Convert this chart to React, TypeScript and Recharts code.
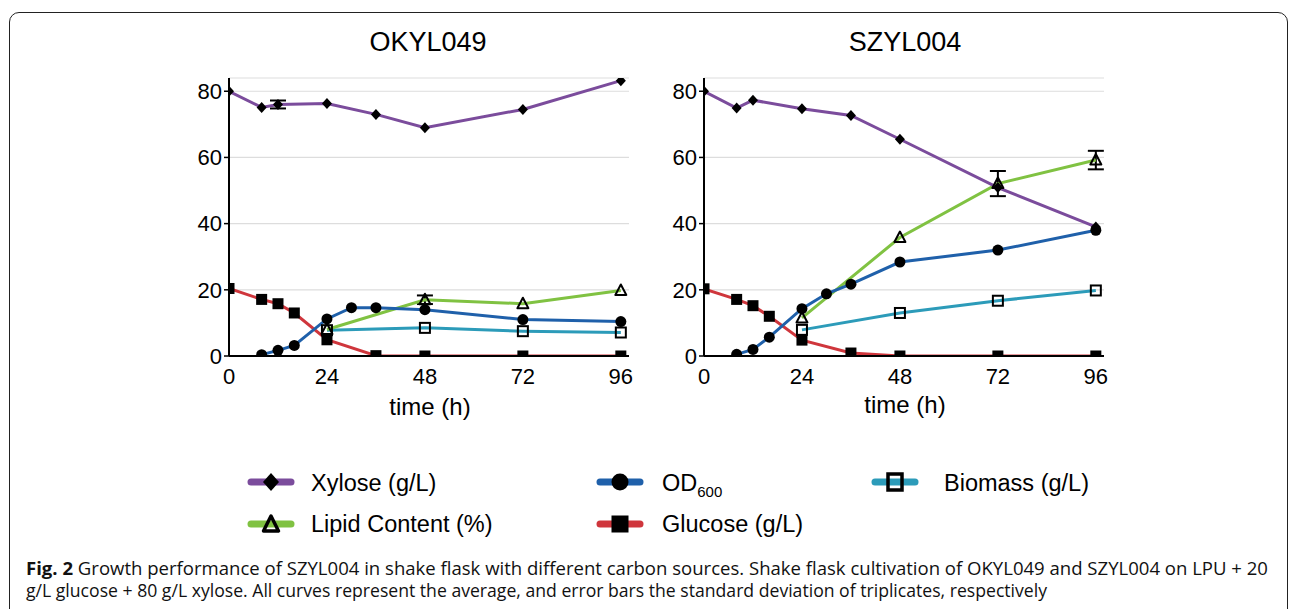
import React from 'react';
import { LineChart, Line, XAxis, YAxis, CartesianGrid, ErrorBar } from 'recharts';

// time points (h) for each measured quantity
const xyloseTimes = [0, 8, 12, 24, 36, 48, 72, 96];
const glucoseTimes = [0, 8, 12, 16, 24, 36, 48, 72, 96];
const odTimes = [8, 12, 16, 24, 30, 36, 48, 72, 96];
const lipidTimes = [24, 48, 72, 96];
const biomassTimes = [24, 48, 72, 96];

const timeTicks = [0, 24, 48, 72, 96];
const valueTicks = [0, 20, 40, 60, 80];

// OKYL049
const okXylose = [80, 75.1, 76.0, 76.3, 73.0, 69.0, 74.5, 83.2];
const okXyloseSd = [null, null, 1.2, null, null, null, null, null];
const okGlucose = [20.4, 17.1, 15.8, 13.0, 4.9, 0.1, 0, 0, 0];
const okOd = [0.4, 1.7, 3.2, 11.2, 14.6, 14.6, 14.0, 11.0, 10.4];
const okLipid = [8.0, 17.0, 15.8, 19.8];
const okLipidSd = [null, 1.3, null, null];
const okBiomass = [7.8, 8.5, 7.5, 7.1];

// SZYL004
const szXylose = [80, 74.9, 77.3, 74.7, 72.7, 65.5, 50.9, 39.0];
const szGlucose = [20.3, 17.1, 15.2, 12.0, 4.8, 0.9, 0, 0, 0];
const szOd = [0.5, 2.0, 5.7, 14.3, 18.8, 21.7, 28.4, 32.0, 38.0];
const szLipid = [11.5, 35.8, 52.1, 59.2];
const szLipidSd = [null, null, 3.8, 2.8];
const szBiomass = [7.9, 13.0, 16.7, 19.8];

const colors = {
  xylose: '#7b4c9c',
  od: '#1f60aa',
  biomass: '#2c9bb9',
  lipid: '#80c242',
  glucose: '#cf363c',
};

const FONT = '"Liberation Sans", Arial, Helvetica, sans-serif';

const pts = (t: number[], v: number[], sd?: (number | null)[]) =>
  t.map((x, i) => ({ t: x, v: v[i], e: sd && sd[i] != null ? sd[i] : undefined }));

const empty = (p: any) => <g key={`e${p.index}`} />;

const diamondDot = (p: any) => {
  const { cx, cy } = p;
  if (cx == null || cy == null) return empty(p);
  return <path key={`d${p.index}`} d={`M${cx},${cy - 5.5}L${cx + 5},${cy}L${cx},${cy + 5.5}L${cx - 5},${cy}Z`} fill="#000" />;
};
const circleDot = (p: any) => {
  const { cx, cy } = p;
  if (cx == null || cy == null) return empty(p);
  return <circle key={`c${p.index}`} cx={cx} cy={cy} r={5.5} fill="#000" />;
};
const squareDot = (p: any) => {
  const { cx, cy } = p;
  if (cx == null || cy == null) return empty(p);
  return <rect key={`s${p.index}`} x={cx - 5.5} y={cy - 5.5} width={11} height={11} fill="#000" />;
};
const openSquareDot = (p: any) => {
  const { cx, cy } = p;
  if (cx == null || cy == null) return empty(p);
  return <rect key={`o${p.index}`} x={cx - 5} y={cy - 5} width={10} height={10} fill="none" stroke="#000" strokeWidth={2} />;
};
const triangleDot = (p: any) => {
  const { cx, cy } = p;
  if (cx == null || cy == null) return empty(p);
  return <path key={`t${p.index}`} d={`M${cx},${cy - 6}L${cx + 5.5},${cy + 4.5}L${cx - 5.5},${cy + 4.5}Z`} fill="none" stroke="#000" strokeWidth={2} strokeLinejoin="round" />;
};

function Panel({ left, xylose, xyloseSd, glucose, od, lipid, lipidSd, biomass }: any) {
  const series = [
    { key: 'biomass', data: pts(biomassTimes, biomass), color: colors.biomass, dot: openSquareDot },
    { key: 'lipid', data: pts(lipidTimes, lipid, lipidSd), color: colors.lipid, dot: triangleDot },
    { key: 'glucose', data: pts(glucoseTimes, glucose), color: colors.glucose, dot: squareDot },
    { key: 'od', data: pts(odTimes, od), color: colors.od, dot: circleDot },
    { key: 'xylose', data: pts(xyloseTimes, xylose, xyloseSd), color: colors.xylose, dot: diamondDot },
  ];
  return (
    <div style={{ position: 'absolute', left, top: 60 }}>
      <LineChart width={500} height={340} margin={{ top: 18, right: 21, bottom: 4, left: 0 }}>
        <CartesianGrid vertical={false} stroke="#dddddd" strokeWidth={1.2} />
        <XAxis
          dataKey="t"
          type="number"
          domain={[0, 98]}
          ticks={timeTicks}
          allowDataOverflow
          height={40}
          tickLine={false}
          tickSize={6}
          tickMargin={6}
          axisLine={{ stroke: '#000', strokeWidth: 2 }}
          tick={{ fill: '#000', fontSize: 22, fontFamily: FONT }}
        />
        <YAxis
          type="number"
          domain={[0, 84]}
          ticks={valueTicks}
          allowDataOverflow
          width={79}
          tickSize={5}
          tickMargin={2}
          tickLine={{ stroke: '#000', strokeWidth: 1.5 }}
          axisLine={{ stroke: '#000', strokeWidth: 2 }}
          tick={{ fill: '#000', fontSize: 22, fontFamily: FONT }}
        />
        {series.map((s) => (
          <Line
            key={s.key}
            data={s.data}
            dataKey="v"
            type="linear"
            stroke={s.color}
            strokeWidth={3}
            dot={s.dot}
            activeDot={false}
            isAnimationActive={false}
          >
            {(s.key === 'xylose' || s.key === 'lipid') && (
              <ErrorBar dataKey="e" direction="y" width={8} stroke="#000" strokeWidth={2} />
            )}
          </Line>
        ))}
      </LineChart>
    </div>
  );
}

function LegendIcon({ x, y, color, kind }: any) {
  let marker = null;
  if (kind === 'diamond') marker = <path d={`M${x},${y - 9}L${x + 8},${y}L${x},${y + 9}L${x - 8},${y}Z`} fill="#000" />;
  if (kind === 'circle') marker = <circle cx={x} cy={y} r={8.5} fill="#000" />;
  if (kind === 'square') marker = <rect x={x - 8.5} y={y - 8.5} width={17} height={17} fill="#000" />;
  if (kind === 'open') marker = <rect x={x - 7} y={y - 8} width={14} height={16} fill="none" stroke="#000" strokeWidth={3.5} />;
  if (kind === 'triangle')
    marker = <path d={`M${x},${y - 8}L${x + 7.5},${y + 7}L${x - 7.5},${y + 7}Z`} fill="none" stroke="#000" strokeWidth={3.5} strokeLinejoin="round" />;
  return (
    <g>
      <line x1={x - 20} x2={x + 20} y1={y} y2={y} stroke={color} strokeWidth={7} strokeLinecap="round" />
      {marker}
    </g>
  );
}

export default function App() {
  return (
    <div style={{ position: 'absolute', left: 0, top: 0, width: 1290, height: 609, overflow: 'hidden', background: '#fff' }}>
      <div
        style={{
          position: 'absolute',
          left: 9,
          top: 12,
          width: 1279,
          height: 700,
          border: '1.5px solid #222',
          borderRadius: 10,
          boxSizing: 'border-box',
        }}
      />
      <Panel left={150} xylose={okXylose} xyloseSd={okXyloseSd} glucose={okGlucose} od={okOd} lipid={okLipid} lipidSd={okLipidSd} biomass={okBiomass} />
      <Panel left={625} xylose={szXylose} glucose={szGlucose} od={szOd} lipid={szLipid} lipidSd={szLipidSd} biomass={szBiomass} />
      <svg width={1290} height={609} style={{ position: 'absolute', left: 0, top: 0, pointerEvents: 'none' }}>
        <g fontFamily={FONT} fill="#000">
          <text x={428} y={51} fontSize={27} textAnchor="middle">OKYL049</text>
          <text x={905} y={51} fontSize={27} textAnchor="middle">SZYL004</text>
          <text x={430} y={415} fontSize={24} textAnchor="middle">time (h)</text>
          <text x={905} y={413} fontSize={24} textAnchor="middle">time (h)</text>

          <LegendIcon x={271} y={482} color={colors.xylose} kind="diamond" />
          <text x={311} y={491} fontSize={23.5}>Xylose (g/L)</text>
          <LegendIcon x={620} y={482} color={colors.od} kind="circle" />
          <text x={662} y={491} fontSize={23.5}>OD<tspan fontSize={15} dy={6}>600</tspan></text>
          <LegendIcon x={895} y={482} color={colors.biomass} kind="open" />
          <text x={944} y={491} fontSize={23.5}>Biomass (g/L)</text>

          <LegendIcon x={271} y={524} color={colors.lipid} kind="triangle" />
          <text x={311} y={532} fontSize={23.5}>Lipid Content (%)</text>
          <LegendIcon x={620} y={524} color={colors.glucose} kind="square" />
          <text x={662} y={532} fontSize={23.5}>Glucose (g/L)</text>
        </g>
        <g fontFamily='"Open Sans", "Noto Sans", sans-serif' fill="#111" fontSize={17.5}>
          <text x={26} y={575} textLength={1242} lengthAdjust="spacingAndGlyphs">
            <tspan fontWeight={700}>Fig. 2</tspan> Growth performance of SZYL004 in shake flask with different carbon sources. Shake flask cultivation of OKYL049 and SZYL004 on LPU + 20
          </text>
          <text x={26} y={597} textLength={1021} lengthAdjust="spacingAndGlyphs">
            g/L glucose + 80 g/L xylose. All curves represent the average, and error bars the standard deviation of triplicates, respectively
          </text>
        </g>
      </svg>
    </div>
  );
}
